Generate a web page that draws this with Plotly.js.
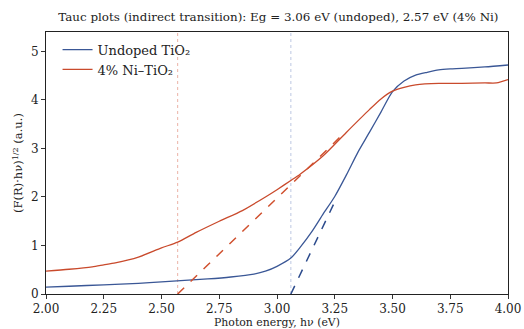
<!DOCTYPE html>
<html>
<head>
<meta charset="utf-8">
<script src="https://cdn.plot.ly/plotly-3.0.1.min.js"></script>
<style>html,body{margin:0;padding:0;background:#fff;}#chart{width:524px;height:329px;}</style>
</head>
<body>
<div id="chart"></div>
<script>
// Photon energy (eV)
const xUndoped = [2.00,2.10,2.25,2.40,2.50,2.60,2.70,2.80,2.90,2.95,3.00,3.06,3.10,3.15,3.20,3.25,3.30,3.35,3.40,3.45,3.50,3.55,3.60,3.65,3.70,3.75,3.80,3.90,4.00];
const yUndoped = [0.14,0.16,0.19,0.22,0.25,0.28,0.31,0.35,0.41,0.47,0.57,0.74,0.96,1.28,1.65,2.01,2.45,2.92,3.33,3.75,4.17,4.39,4.51,4.57,4.62,4.64,4.65,4.68,4.72];
const xNi = [2.00,2.10,2.20,2.25,2.30,2.40,2.50,2.57,2.65,2.75,2.85,2.95,3.00,3.06,3.10,3.20,3.30,3.40,3.45,3.50,3.55,3.60,3.70,3.80,3.90,3.95,4.00];
const yNi = [0.47,0.51,0.56,0.60,0.64,0.76,0.95,1.07,1.27,1.50,1.72,2.00,2.15,2.34,2.47,2.85,3.33,3.80,4.02,4.18,4.26,4.31,4.34,4.34,4.35,4.35,4.42];
// Band gaps and tangent fits
const egUndoped = 3.06, slopeUndoped = 10.0, fitEndUndoped = 3.26;
const egNi = 2.57, slopeNi = 4.6, fitEndNi = 3.28;
const yMax = 5.4;

const blue = '#3a5796', red = '#c94a2c';
const traces = [
  {x:[egNi,egNi], y:[0,yMax], mode:'lines', line:{color:'#e2907f',width:0.7,dash:'dot'}, showlegend:false, hoverinfo:'skip'},
  {x:[egUndoped,egUndoped], y:[0,yMax], mode:'lines', line:{color:'#9fb0d6',width:0.7,dash:'dot'}, showlegend:false, hoverinfo:'skip'},
  {x:xUndoped, y:yUndoped, mode:'lines', name:'Undoped TiO₂', line:{color:blue,width:1.3,shape:'spline',smoothing:0.7}},
  {x:xNi, y:yNi, mode:'lines', name:'4% Ni–TiO₂', line:{color:red,width:1.3,shape:'spline',smoothing:0.7}},
  {x:[egUndoped,fitEndUndoped], y:[0,slopeUndoped*(fitEndUndoped-egUndoped)], mode:'lines', line:{color:'#2b4a8c',width:1.5,dash:'dash'}, showlegend:false},
  {x:[egNi,fitEndNi], y:[0,slopeNi*(fitEndNi-egNi)], mode:'lines', line:{color:'#d0502e',width:1.5,dash:'dash'}, showlegend:false}
];
const font = {family:'DejaVu Serif, serif', color:'#222', size:11.5};
const layout = {
  width:524, height:329,
  margin:{l:46, r:16, t:32, b:35},
  paper_bgcolor:'#fff', plot_bgcolor:'#fff',
  font:font,
  title:{text:'Tauc plots (indirect transition): Eg = 3.06 eV (undoped), 2.57 eV (4% Ni)', font:{family:'DejaVu Serif, serif', size:11.9, color:'#222'}, xref:'paper', x:0.503, xanchor:'center', y:0.963, yanchor:'top'},
  xaxis:{range:[2,4], tickvals:[2,2.25,2.5,2.75,3,3.25,3.5,3.75,4], ticktext:['2.00','2.25','2.50','2.75','3.00','3.25','3.50','3.75','4.00'],
    ticks:'outside', ticklen:4, tickcolor:'#333', showgrid:false, zeroline:false, showline:true, linecolor:'#222', linewidth:1, mirror:true,
    tickfont:{size:12},
    title:{text:'Photon energy, hν (eV)', font:{size:10.9}, standoff:2}},
  yaxis:{range:[0,yMax], tickvals:[0,1,2,3,4,5], ticks:'outside', ticklen:4, tickcolor:'#333', showgrid:false, zeroline:false, showline:true, linecolor:'#222', linewidth:1, mirror:true,
    tickfont:{size:12},
    title:{text:'(F(R)·hν)<sup>1/2</sup> (a.u.)', font:{size:11.5}, standoff:5}},
  legend:{x:0.025, y:0.99, xanchor:'left', yanchor:'top', bgcolor:'rgba(255,255,255,0)', font:{size:13}, tracegroupgap:0, itemwidth:30}
};
Plotly.newPlot('chart', traces, layout, {staticPlot:true, displayModeBar:false});
</script>
</body>
</html>
